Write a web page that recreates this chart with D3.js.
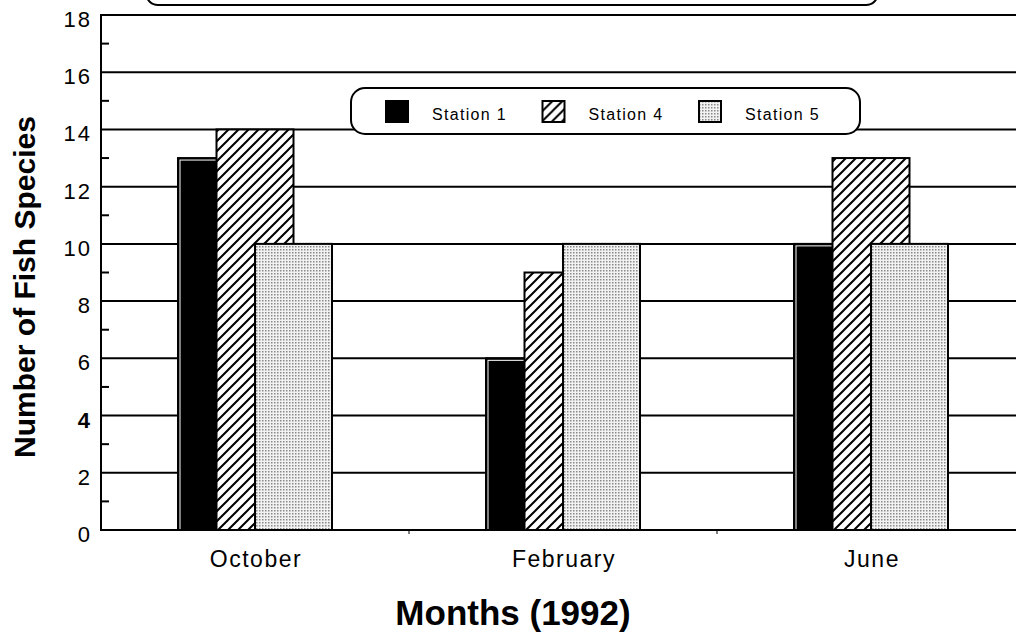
<!DOCTYPE html>
<html>
<head>
<meta charset="utf-8">
<script src="https://cdn.jsdelivr.net/npm/d3@7"></script>
<style>
  html, body { margin: 0; padding: 0; background: #fff; }
  svg { display: block; }
  text { font-family: "Liberation Sans", Arial, sans-serif; fill: #000; }
</style>
</head>
<body>
<div id="viz"></div>
<script>
// data
let months = ["October", "February", "June"];
let stations = ["Station 1", "Station 4", "Station 5"];
let station1 = [13, 6, 10];
let station4 = [14, 9, 13];
let station5 = [10, 10, 10];
let yTicks = [0, 2, 4, 6, 8, 10, 12, 14, 16, 18];
let yMinor = [1, 3, 5, 7, 9, 11, 13, 15, 17];

let w = 1016;
let h = 639;
let plotLeft = 101;
let plotTop = 15;
let plotBottom = 530;

let viz = d3.select("#viz")
    .append("svg")
    .attr("width", w)
    .attr("height", h);

let defs = viz.append("defs");

// diagonal hatch for station 4
let hatch = defs.append("pattern")
    .attr("id", "hatch")
    .attr("patternUnits", "userSpaceOnUse")
    .attr("width", 10)
    .attr("height", 10);
hatch.append("rect").attr("width", 10).attr("height", 10).attr("fill", "white");
hatch.append("path")
    .attr("d", "M-2,2 L2,-2 M0,10 L10,0 M8,12 L12,8")
    .attr("stroke", "black")
    .attr("stroke-width", 2);

// fine dots for station 5
let dots = defs.append("pattern")
    .attr("id", "dots")
    .attr("patternUnits", "userSpaceOnUse")
    .attr("width", 3)
    .attr("height", 3);
dots.append("rect").attr("width", 3).attr("height", 3).attr("fill", "#f2f2f2");
dots.append("rect").attr("width", 1.5).attr("height", 1.5).attr("fill", "#888");

let fills = ["black", "url(#hatch)", "url(#dots)"];
let series = [station1, station4, station5];

let xScale = d3.scaleBand()
    .domain(months)
    .range([plotLeft, plotLeft + 308 * 3])
    .padding(0);

let yScale = d3.scaleLinear()
    .domain([0, 18])
    .range([plotBottom, plotTop]);

// title box cut off at the top
viz.append("rect")
    .attr("x", 146)
    .attr("y", -40)
    .attr("width", 732)
    .attr("height", 45)
    .attr("rx", 12)
    .attr("fill", "white")
    .attr("stroke", "black")
    .attr("stroke-width", 2);

// gridlines
viz.selectAll(".grid").data(yTicks.filter(d => d > 0)).enter()
    .append("line")
    .attr("class", "grid")
    .attr("x1", plotLeft)
    .attr("x2", w)
    .attr("y1", d => yScale(d))
    .attr("y2", d => yScale(d))
    .attr("stroke", "black")
    .attr("stroke-width", 2);

// minor ticks
viz.selectAll(".minor").data(yMinor).enter()
    .append("line")
    .attr("class", "minor")
    .attr("x1", plotLeft)
    .attr("x2", plotLeft + 8)
    .attr("y1", d => yScale(d))
    .attr("y2", d => yScale(d))
    .attr("stroke", "black")
    .attr("stroke-width", 2);

// bars
let bw = xScale.bandwidth() * 0.25;
let step = xScale.bandwidth() * 0.125;

let groups = viz.selectAll(".month").data(months).enter()
    .append("g")
    .attr("class", "month")
    .attr("transform", d => "translate(" + (xScale(d) + xScale.bandwidth() / 2 - bw) + ",0)");

series.forEach(function (vals, s) {
    groups.append("rect")
        .attr("x", s * step)
        .attr("y", (d, i) => yScale(vals[i]))
        .attr("width", bw)
        .attr("height", (d, i) => yScale(0) - yScale(vals[i]))
        .attr("fill", fills[s])
        .attr("stroke", "black")
        .attr("stroke-width", 2);
    if (s == 0) {
        // thin white inner line on the black bars
        groups.append("rect")
            .attr("x", s * step + 2)
            .attr("y", (d, i) => yScale(vals[i]) + 2)
            .attr("width", bw - 4)
            .attr("height", (d, i) => yScale(0) - yScale(vals[i]) - 2)
            .attr("fill", "none")
            .attr("stroke", "white")
            .attr("stroke-width", 1);
    }
});

// axes lines
viz.append("line")
    .attr("x1", plotLeft).attr("x2", plotLeft)
    .attr("y1", plotTop - 1).attr("y2", plotBottom + 1)
    .attr("stroke", "black").attr("stroke-width", 2);
viz.append("line")
    .attr("x1", plotLeft).attr("x2", w)
    .attr("y1", plotBottom).attr("y2", plotBottom)
    .attr("stroke", "black").attr("stroke-width", 2);

// x ticks at band edges
viz.selectAll(".xtick").data(months.slice(1)).enter()
    .append("line")
    .attr("class", "xtick")
    .attr("x1", d => xScale(d))
    .attr("x2", d => xScale(d))
    .attr("y1", plotBottom)
    .attr("y2", plotBottom + 4)
    .attr("stroke", "black")
    .attr("stroke-width", 1);

// y tick labels
viz.selectAll(".ylabel").data(yTicks).enter()
    .append("text")
    .attr("class", "ylabel")
    .attr("x", 92)
    .attr("y", d => yScale(d) + 12)
    .attr("text-anchor", "end")
    .attr("font-size", 22)
    .attr("letter-spacing", 2)
    .attr("font-weight", d => d == 4 ? "bold" : "normal")
    .text(d => d);

// month labels
viz.selectAll(".xlabel").data(months).enter()
    .append("text")
    .attr("class", "xlabel")
    .attr("x", d => xScale(d) + xScale.bandwidth() / 2 + 1)
    .attr("y", 567)
    .attr("text-anchor", "middle")
    .attr("font-size", 23)
    .attr("letter-spacing", 1.5)
    .text(d => d);

// axis titles
viz.append("text")
    .attr("x", 513)
    .attr("y", 625)
    .attr("text-anchor", "middle")
    .attr("font-size", 35)
    .attr("font-weight", "bold")
    .text("Months (1992)");

viz.append("text")
    .attr("transform", "translate(35,287) rotate(-90)")
    .attr("text-anchor", "middle")
    .attr("font-size", 30)
    .attr("font-weight", "bold")
    .text("Number of Fish Species");

// legend
viz.append("rect")
    .attr("x", 351)
    .attr("y", 88)
    .attr("width", 509)
    .attr("height", 46)
    .attr("rx", 14)
    .attr("fill", "white")
    .attr("stroke", "black")
    .attr("stroke-width", 2);

let legend = viz.selectAll(".legend").data(stations).enter()
    .append("g")
    .attr("class", "legend")
    .attr("transform", (d, i) => "translate(" + (386 + i * 156.5) + ",101)");

legend.append("rect")
    .attr("width", 22)
    .attr("height", 21)
    .attr("fill", (d, i) => fills[i])
    .attr("stroke", "black")
    .attr("stroke-width", 2);

legend.append("text")
    .attr("x", 46)
    .attr("y", 19)
    .attr("font-size", 16)
    .attr("letter-spacing", 1.3)
    .text(d => d);
</script>
</body>
</html>
